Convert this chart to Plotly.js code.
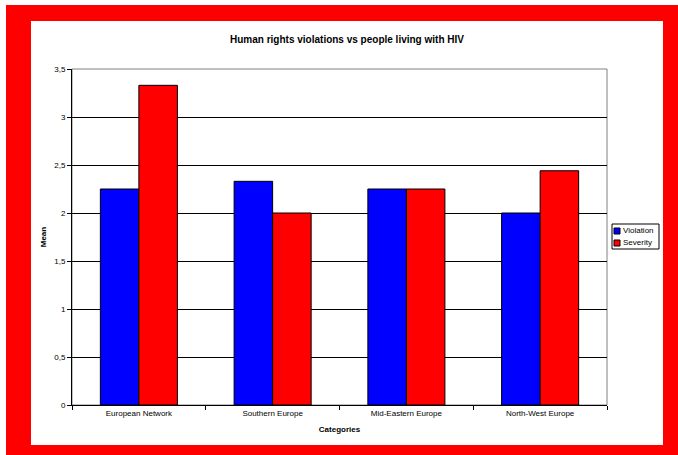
<!DOCTYPE html>
<html>
<head>
<meta charset="utf-8">
<script src="https://cdn.plot.ly/plotly-3.0.1.min.js"></script>
<style>
html,body{margin:0;padding:0;background:#fff;}
#chart{width:678px;height:455px;}
</style>
</head>
<body>
<div id="chart"></div>
<script>
var categories = ["European Network", "Southern Europe", "Mid-Eastern Europe", "North-West Europe"];
var violation = [2.25, 2.33, 2.25, 2.0];
var severity = [3.33, 2.0, 2.25, 2.44];
var seriesNames = ["Violation", "Severity"];
var yTickVals = [0, 0.5, 1, 1.5, 2, 2.5, 3, 3.5];

var W = 678, H = 455;
var L = 72, R = 607, T = 69, B = 405;
function px(x){ return (x - L) / (R - L); }
function py(y){ return (B - y) / (B - T); }

var traces = [
  {type:"bar", name:seriesNames[0], x:categories, y:violation,
   marker:{color:"#0000FF", line:{color:"#000", width:1}}, hoverinfo:"x+y"},
  {type:"bar", name:seriesNames[1], x:categories, y:severity,
   marker:{color:"#FF0000", line:{color:"#000", width:1}}, hoverinfo:"x+y"}
];

var font = "Liberation Sans, Arial, sans-serif";

var shapes = [
  {type:"rect", xref:"paper", yref:"paper", x0:px(6), x1:px(679), y0:py(456), y1:py(5),
   fillcolor:"#FF0000", line:{width:0}, layer:"below"},
  {type:"rect", xref:"paper", yref:"paper", x0:px(31), x1:px(663), y0:py(445), y1:py(21),
   fillcolor:"#FFFFFF", line:{width:0}, layer:"below"},
  {type:"rect", xref:"paper", yref:"paper", x0:0, x1:1, y0:0, y1:1,
   fillcolor:"rgba(0,0,0,0)", line:{color:"#808080", width:1}, layer:"below"},
  // legend box
  {type:"rect", xref:"paper", yref:"paper", x0:px(612), x1:px(659), y0:py(249), y1:py(224),
   fillcolor:"#FFFFFF", line:{color:"#000", width:1}, layer:"above"},
  {type:"rect", xref:"paper", yref:"paper", x0:px(614), x1:px(620), y0:py(234), y1:py(228),
   fillcolor:"#0000FF", line:{color:"#000", width:1}, layer:"above"},
  {type:"rect", xref:"paper", yref:"paper", x0:px(614), x1:px(620), y0:py(246), y1:py(240),
   fillcolor:"#FF0000", line:{color:"#000", width:1}, layer:"above"}
];

var annotations = [
  {xref:"paper", yref:"paper", x:px(621), y:py(231), xanchor:"left", yanchor:"middle",
   text:seriesNames[0], showarrow:false, font:{family:font, size:8, color:"#000"}},
  {xref:"paper", yref:"paper", x:px(621), y:py(243), xanchor:"left", yanchor:"middle",
   text:seriesNames[1], showarrow:false, font:{family:font, size:8, color:"#000"}}
];

var layout = {
  width:W, height:H,
  margin:{l:L, r:W-R, t:T, b:H-B, pad:0},
  paper_bgcolor:"#FFFFFF", plot_bgcolor:"#FFFFFF",
  separators:", ",
  showlegend:false,
  barmode:"group", bargap:0.424, bargroupgap:0,
  title:{text:"<b>Human rights violations vs people living with HIV</b>",
    xref:"paper", x:px(347), xanchor:"center",
    yref:"container", y:1-39/H, yanchor:"middle",
    font:{family:font, size:10, color:"#000"}},
  xaxis:{
    type:"category", tickson:"boundaries", ticks:"outside", ticklen:4, tickcolor:"#000",
    showline:true, linecolor:"#000", linewidth:1, showgrid:false,
    tickfont:{family:font, size:8, color:"#000"},
    title:{text:"<b>Categories</b>", font:{family:font, size:8, color:"#000"}, standoff:9}
  },
  yaxis:{
    range:[0,3.5], tickvals:yTickVals, ticks:"outside", ticklen:4, tickcolor:"#000",
    showline:true, linecolor:"#000", linewidth:1,
    showgrid:true, gridcolor:"#000", gridwidth:1, zeroline:false,
    tickfont:{family:font, size:8, color:"#000"},
    title:{text:"<b>Mean</b>", font:{family:font, size:8, color:"#000"}, standoff:6}
  },
  shapes:shapes,
  annotations:annotations
};

Plotly.newPlot("chart", traces, layout, {displayModeBar:false, staticPlot:true});
</script>
</body>
</html>
